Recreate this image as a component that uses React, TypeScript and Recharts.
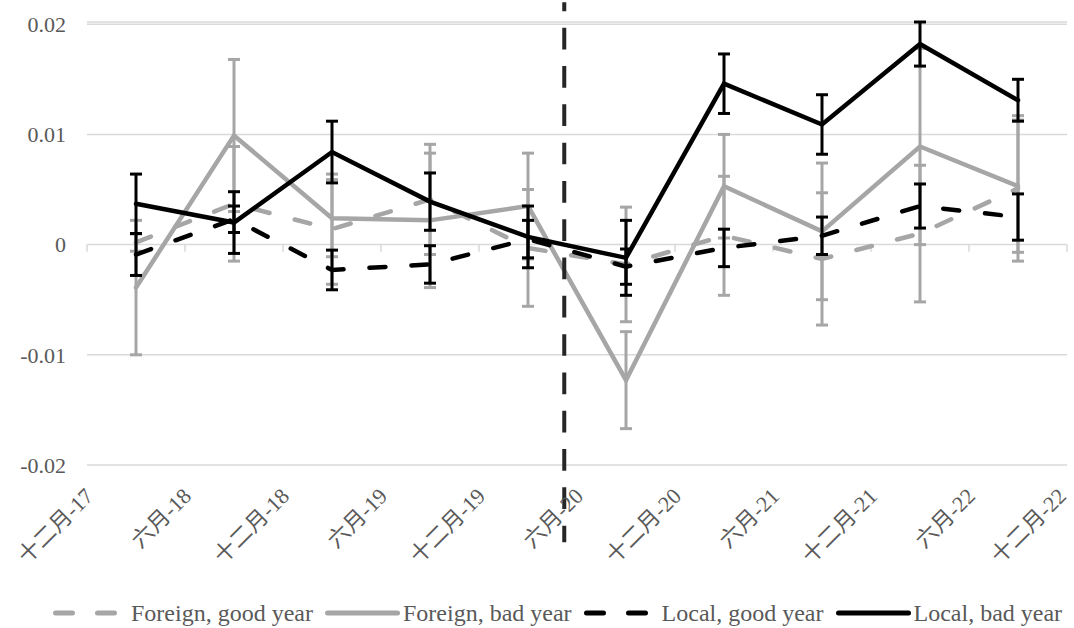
import React from "react";
import {
  CartesianGrid,
  ErrorBar,
  Legend,
  Line,
  LineChart,
  ReferenceLine,
  XAxis,
  YAxis,
} from "recharts";

// half-year tick labels on the date axis
const tickLabels = [
  "十二月-17",
  "六月-18",
  "十二月-18",
  "六月-19",
  "十二月-19",
  "六月-20",
  "十二月-20",
  "六月-21",
  "十二月-21",
  "六月-22",
  "十二月-22",
];
const xTicks = [0, 1, 2, 3, 4, 5, 6, 7, 8, 9, 10];
const yTicks = [-0.02, -0.01, 0, 0.01, 0.02];

// observations sit midway between the half-year ticks
const periods = [0.5, 1.5, 2.5, 3.5, 4.5, 5.5, 6.5, 7.5, 8.5, 9.5];

const foreignGood = [0.0002, 0.0037, 0.0014, 0.0041, -0.0003, -0.0018, 0.0008, -0.0013, 0.001, 0.0051];
const foreignGoodErr = [0.0008, 0.0052, 0.005, 0.005, 0.0053, 0.0052, 0.0054, 0.006, 0.0062, 0.0066];
const foreignBad = [-0.0039, 0.0099, 0.0024, 0.0022, 0.0035, -0.0123, 0.0053, 0.0012, 0.0089, 0.0053];
const foreignBadErr = [0.0061, 0.0069, 0.0035, 0.0061, 0.0048, 0.0044, 0.0047, 0.0062, 0.0089, 0.006];
const localGood = [-0.0009, 0.0023, -0.0023, -0.0018, 0.0005, -0.002, -0.0003, 0.0008, 0.0035, 0.0025];
const localGoodErr = [0.0019, 0.0012, 0.0018, 0.0017, 0.0017, 0.0016, 0.0017, 0.0017, 0.002, 0.0021];
const localBad = [0.0037, 0.002, 0.0084, 0.0039, 0.0007, -0.0012, 0.0146, 0.0109, 0.0182, 0.0131];
const localBadErr = [0.0027, 0.0028, 0.0028, 0.0026, 0.0028, 0.0034, 0.0027, 0.0027, 0.002, 0.0019];

// break marker (just before 六月-20)
const breakX = 4.87;

const GRAY = "#a6a6a6";
const BLACK = "#000000";
const TEXT = "#595959";
const GRID = "#d9d9d9";
const FONT = '"Times New Roman", "Liberation Serif", "Noto Sans CJK SC", serif';
const FONT_SIZE = 22;
const DASH = "16 26";

const data = periods.map((x, i) => ({
  x,
  fg: foreignGood[i],
  fgErr: foreignGoodErr[i],
  fb: foreignBad[i],
  fbErr: foreignBadErr[i],
  lg: localGood[i],
  lgErr: localGoodErr[i],
  lb: localBad[i],
  lbErr: localBadErr[i],
}));

const series = [
  { key: "fg", name: "Foreign, good year", color: GRAY, dashed: true },
  { key: "fb", name: "Foreign, bad year", color: GRAY, dashed: false },
  { key: "lg", name: "Local, good year", color: BLACK, dashed: true },
  { key: "lb", name: "Local, bad year", color: BLACK, dashed: false },
];

function formatY(v: number) {
  if (v === 0) return "0";
  return v.toFixed(2);
}

function DateTick(props: any) {
  const { x, y, payload } = props;
  // keep the last rotated label inside the picture
  const tx = Math.min(x + 2, 1062);
  return (
    <g transform={`translate(${tx},${y + 19})`}>
      <text
        transform="rotate(-45)"
        textAnchor="end"
        dy="0.35em"
        fill={TEXT}
        fontFamily={FONT}
        fontSize={FONT_SIZE}
      >
        {tickLabels[payload.value]}
      </text>
    </g>
  );
}

function LegendContent() {
  return (
    <div
      style={{
        display: "flex",
        justifyContent: "flex-start",
        alignItems: "center",
        paddingLeft: 53,
        fontFamily: FONT,
        fontSize: 24,
        lineHeight: "26px",
        color: TEXT,
        whiteSpace: "nowrap",
      }}
    >
      {series.map((s) => (
        <div key={s.key} style={{ display: "flex", alignItems: "center", marginRight: 12 }}>
          <svg width={75} height={10} style={{ marginRight: 3 }}>
            <line
              x1={2.5}
              y1={5}
              x2={72.5}
              y2={5}
              stroke={s.color}
              strokeWidth={5}
              strokeLinecap="round"
              strokeDasharray={s.dashed ? "17 25" : undefined}
            />
          </svg>
          <span>{s.name}</span>
        </div>
      ))}
    </div>
  );
}

export default function App() {
  return (
    <div style={{ position: "absolute", left: 0, top: 0, background: "#fff" }}>
      <LineChart
        width={1074}
        height={628}
        data={data}
        margin={{ top: 22, right: 7, left: 27, bottom: 63 }}
      >
        <CartesianGrid vertical={false} stroke={GRID} strokeWidth={1.5} />
        <XAxis
          dataKey="x"
          type="number"
          domain={[0, 10]}
          ticks={xTicks}
          interval={0}
          axisLine={false}
          tickLine={false}
          height={100}
          tick={<DateTick />}
        />
        <YAxis
          type="number"
          domain={[-0.02, 0.02]}
          ticks={yTicks}
          axisLine={false}
          tickLine={false}
          tickSize={0}
          tickMargin={21}
          width={60}
          tickFormatter={formatY}
          tick={{ fill: TEXT, fontFamily: FONT, fontSize: FONT_SIZE }}
        />
        {xTicks.map((t) => (
          <ReferenceLine
            key={`tm${t}`}
            segment={[
              { x: t, y: 0 },
              { x: t, y: -0.00065 },
            ]}
            stroke={GRID}
            strokeWidth={1.5}
            ifOverflow="visible"
          />
        ))}
        {series.map((s) => (
          <Line
            key={s.key}
            dataKey={s.key}
            name={s.name}
            stroke={s.color}
            strokeWidth={4.5}
            strokeDasharray={s.dashed ? DASH : undefined}
            strokeLinecap="round"
            dot={false}
            activeDot={false}
            isAnimationActive={false}
          >
            <ErrorBar
              dataKey={`${s.key}Err`}
              direction="y"
              width={6}
              stroke={s.color}
              strokeWidth={3}
            />
          </Line>
        ))}
        <ReferenceLine
          segment={[
            { x: breakX, y: 0.022 },
            { x: breakX, y: -0.027 },
          ]}
          stroke="#262626"
          strokeWidth={4}
          strokeDasharray="21.7 16.6"
          strokeDashoffset={12.7}
          ifOverflow="visible"
        />
        <Legend
          verticalAlign="middle"
          align="center"
          layout="horizontal"
          content={() => <LegendContent />}
          wrapperStyle={{ top: 600, left: 0, width: 1074 }}
        />
      </LineChart>
    </div>
  );
}
